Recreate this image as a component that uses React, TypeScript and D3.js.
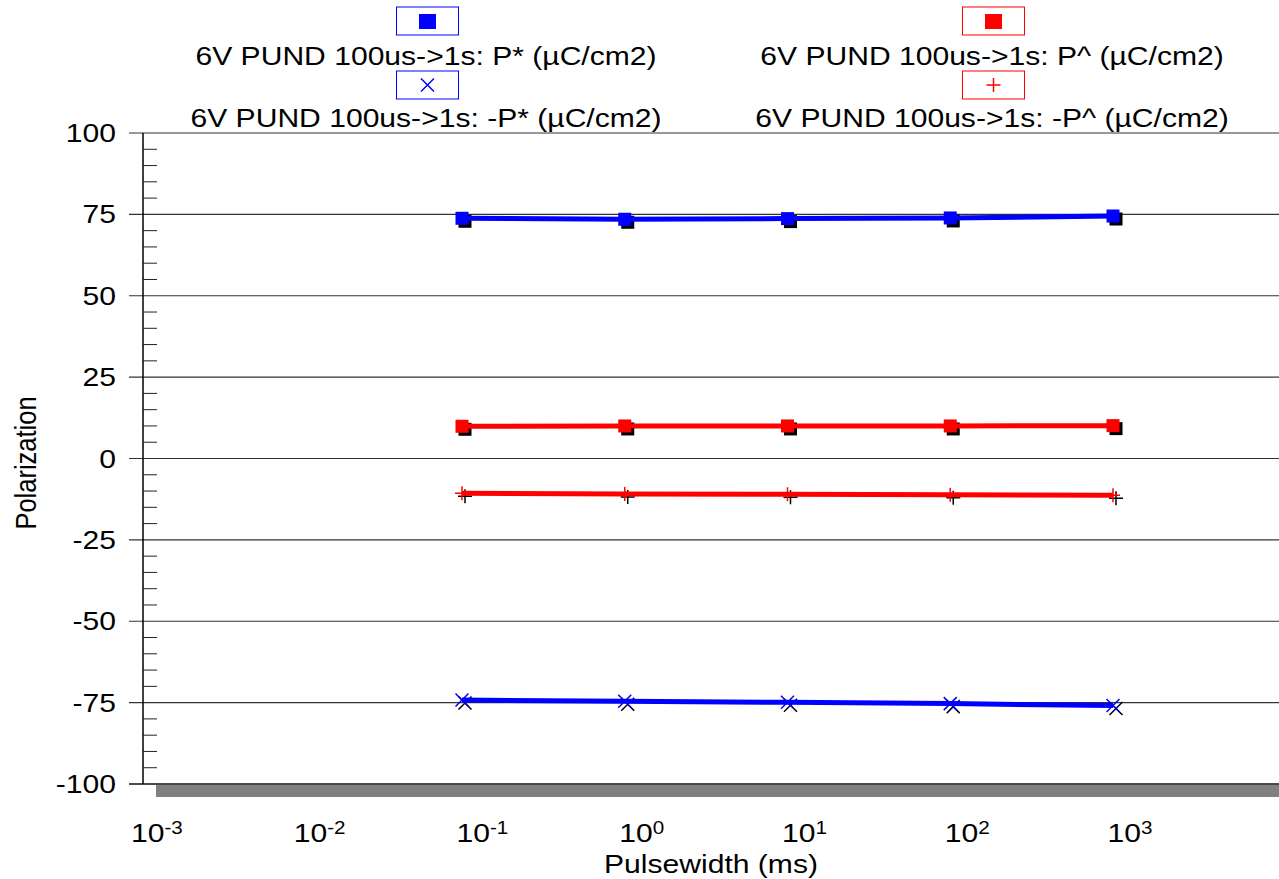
import React from "react";
import * as d3 from "d3";

const pulsewidths = [0.1, 1, 10, 100, 1000];
const pStar = [73.8, 73.5, 73.7, 73.9, 74.5];
const pHat = [9.9, 10.0, 10.0, 10.0, 10.1];
const negPHat = [-10.7, -10.9, -11.0, -11.1, -11.3];
const negPStar = [-74.2, -74.6, -74.9, -75.3, -75.9];
const xTickExps = [-3, -2, -1, 0, 1, 2, 3];
const yMajor = [100, 75, 50, 25, 0, -25, -50, -75, -100];
const legendLabels = [
  "6V PUND 100us->1s: P* (\u00b5C/cm2)",
  "6V PUND 100us->1s: P^ (\u00b5C/cm2)",
  "6V PUND 100us->1s: -P* (\u00b5C/cm2)",
  "6V PUND 100us->1s: -P^ (\u00b5C/cm2)",
];

const W = 1279;
const H = 879;
const SX = 1.18;
const FS = 25.5;
const FONT = "'Liberation Sans', Arial, sans-serif";
const AX_X = 143;
const RIGHT = 1279;

const x = d3.scaleLog().domain([1e-3, 1e3]).range([136.5, 1113]);
const y = d3.scaleLinear().domain([-100, 100]).range([784, 133]);

type Marker = "square" | "cross" | "plus";

function MarkerShape({ type, cx, cy, color }: { type: Marker; cx: number; cy: number; color: string }) {
  if (type === "square") {
    const s = 13;
    return <rect x={cx - s / 2} y={cy - s / 2} width={s} height={s} fill={color} />;
  }
  if (type === "cross") {
    const s = 6.5;
    return (
      <path
        d={`M${cx - s},${cy - s}L${cx + s},${cy + s}M${cx - s},${cy + s}L${cx + s},${cy - s}`}
        stroke={color}
        strokeWidth={1.5}
        fill="none"
      />
    );
  }
  const s = 7;
  return (
    <path
      d={`M${cx - s},${cy}L${cx + s},${cy}M${cx},${cy - s}L${cx},${cy + s}`}
      stroke={color}
      strokeWidth={1.5}
      fill="none"
    />
  );
}

function Series({ values, color, marker }: { values: number[]; color: string; marker: Marker }) {
  const pts: [number, number][] = pulsewidths.map((p, i) => [x(p), y(values[i])]);
  const line = d3.line()(pts) || "";
  return (
    <g>
      {pts.map(([px, py], i) => (
        <MarkerShape key={"s" + i} type={marker} cx={px + 3} cy={py + 3} color="#000" />
      ))}
      <path d={line} stroke={color} strokeWidth={5} fill="none" />
      {pts.map(([px, py], i) => (
        <MarkerShape key={"m" + i} type={marker} cx={px} cy={py} color={color} />
      ))}
    </g>
  );
}

function HText({ x0, y0, anchor, children, size = FS }: any) {
  return (
    <text
      transform={`translate(${x0},${y0}) scale(${SX},1)`}
      textAnchor={anchor}
      fontFamily={FONT}
      fontSize={size}
      fill="#000"
    >
      {children}
    </text>
  );
}

export default function App() {
  const minor: number[] = [];
  for (let v = -100; v <= 100; v += 5) if (v % 25 !== 0) minor.push(v);

  const legendItems = [
    { cx: 427.5, boxY: 7, textY: 65, color: "#0000ff", marker: "square" as Marker, label: legendLabels[0] },
    { cx: 993.5, boxY: 7, textY: 65, color: "#ff0000", marker: "square" as Marker, label: legendLabels[1] },
    { cx: 427.5, boxY: 71, textY: 127, color: "#0000ff", marker: "cross" as Marker, label: legendLabels[2] },
    { cx: 993.5, boxY: 71, textY: 127, color: "#ff0000", marker: "plus" as Marker, label: legendLabels[3] },
  ];

  return (
    <svg
      width={W}
      height={H}
      style={{ position: "absolute", left: 0, top: 0, background: "#fff" }}
    >
      <rect x={0} y={0} width={W} height={H} fill="#fff" />
      {/* legend */}
      {legendItems.map((it, i) => (
        <g key={i}>
          <rect x={it.cx - 31} y={it.boxY} width={62} height={28} fill="#fff" stroke={it.color} strokeWidth={1} />
          {it.marker === "square" ? (
            <rect x={it.cx - 8.5} y={it.boxY + 7} width={17} height={15} fill={it.color} />
          ) : (
            <MarkerShape type={it.marker} cx={it.cx} cy={it.boxY + 14} color={it.color} />
          )}
          <HText x0={it.cx - 1.5} y0={it.textY} anchor="middle">
            {it.label}
          </HText>
        </g>
      ))}

      {/* grid lines */}
      {yMajor.map((v) => (
        <line key={v} x1={129} x2={RIGHT} y1={y(v)} y2={y(v)} stroke="#333" strokeWidth={1.2} />
      ))}
      {/* bottom gray bar */}
      <rect x={156} y={y(-100)} width={RIGHT - 156} height={13} fill="#808080" />
      <line x1={129} x2={RIGHT} y1={y(-100)} y2={y(-100)} stroke="#333" strokeWidth={1.5} />

      {/* y axis */}
      <line x1={AX_X} x2={AX_X} y1={y(100)} y2={y(-100)} stroke="#000" strokeWidth={1.5} />
      {minor.map((v) => (
        <line key={v} x1={AX_X} x2={AX_X + 14} y1={y(v)} y2={y(v)} stroke="#222" strokeWidth={1} />
      ))}
      {yMajor.map((v) => (
        <HText key={v} x0={116} y0={y(v) + 9} anchor="end">
          {String(v)}
        </HText>
      ))}
      <text
        transform={`translate(36,463) scale(${SX},1) rotate(-90)`}
        textAnchor="middle"
        fontFamily={FONT}
        fontSize={FS}
        fill="#000"
      >
        Polarization
      </text>

      {/* x ticks */}
      {xTickExps.map((e) => (
        <text
          key={e}
          transform={`translate(${x(Math.pow(10, e)) - 5.5},842) scale(${SX},1)`}
          textAnchor="start"
          fontFamily={FONT}
          fontSize={FS}
          fill="#000"
        >
          10
          <tspan fontSize={17.5} dy={-8.5}>
            {String(e)}
          </tspan>
        </text>
      ))}
      <HText x0={711} y0={873} anchor="middle">
        Pulsewidth (ms)
      </HText>

      {/* series */}
      <Series values={pStar} color="#0000ff" marker="square" />
      <Series values={pHat} color="#ff0000" marker="square" />
      <Series values={negPHat} color="#ff0000" marker="plus" />
      <Series values={negPStar} color="#0000ff" marker="cross" />
    </svg>
  );
}
